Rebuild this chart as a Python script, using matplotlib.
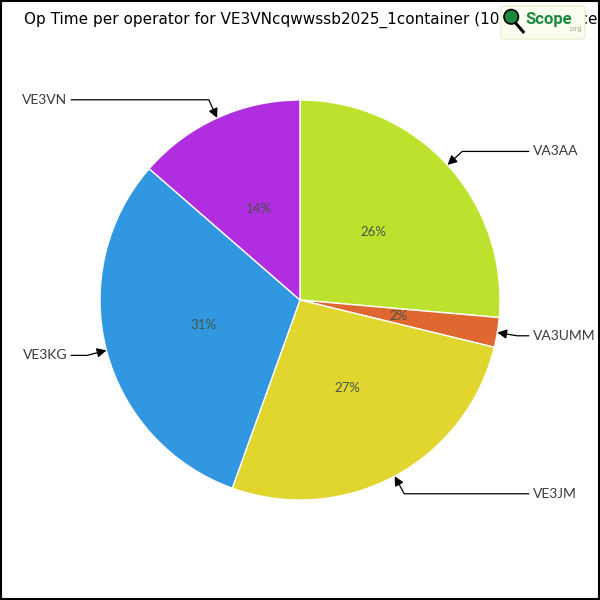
import numpy as np
import matplotlib
matplotlib.use('Agg')
import matplotlib.pyplot as plt
from matplotlib.patches import Rectangle, FancyBboxPatch, Circle

# op time share per operator (percent)
operators = ['VA3AA', 'VA3UMM', 'VE3JM', 'VE3KG', 'VE3VN']
share = [26.4, 2.4, 26.7, 30.9, 13.6]
colors = ['#bde22e', '#e06830', '#e0d62e', '#3097e0', '#b02ee0']
title = 'Op Time per operator for VE3VNcqwwssb2025_1container (10 minute slices)'

fig = plt.figure(figsize=(6, 6), dpi=100)
ax = fig.add_axes([0, 0, 1, 1])

wedges, texts, autotexts = ax.pie(
    share, colors=colors, startangle=90, counterclock=False,
    autopct='%1.0f%%', pctdistance=0.5, radius=1.0,
    wedgeprops=dict(edgecolor='white', linewidth=1),
    textprops=dict(color='#46554a', fontsize=9.5, family='Lato'))

# pie() resets the limits, so set them afterwards
ax.set_xlim(-1.5, 1.5)
ax.set_ylim(-1.5, 1.5)
ax.set_aspect('equal')
ax.axis('off')

# outside labels with elbow arrows
for w, name in zip(wedges, operators):
    ang = (w.theta1 + w.theta2) / 2.0
    a = np.deg2rad(ang)
    x, y = np.cos(a), np.sin(a)
    side = 1 if x >= 0 else -1
    ax.annotate(name, xy=(x, y), xytext=(1.165 * side, 1.1 * y),
                ha='left' if side > 0 else 'right', va='center',
                fontsize=10, color='#3a3a3a', family='Lato',
                arrowprops=dict(arrowstyle='-|>', color='black', lw=0.9,
                                mutation_scale=14, shrinkA=1, shrinkB=0,
                                connectionstyle='angle,angleA=0,angleB=%.1f,rad=0' % ang))

fig.text(0.04, 0.967, title, fontsize=11, color='black', ha='left', va='center',
         family='DejaVu Sans')

# logo box in the top right
logo = FancyBboxPatch((0.835, 0.935), 0.14, 0.055, boxstyle='round,pad=0,rounding_size=0.006',
                      transform=fig.transFigure, facecolor='#fbfdf0', edgecolor='#e4eec0',
                      lw=0.8, zorder=5)
fig.patches.append(logo)
fig.patches.append(Circle((0.852, 0.972), 0.012, transform=fig.transFigure,
                          facecolor='#1a8a3a', edgecolor='black', lw=1.2, zorder=6))
fig.add_artist(plt.Line2D([0.859, 0.872], [0.962, 0.947], transform=fig.transFigure,
                          color='black', lw=2.2, zorder=6))
fig.text(0.876, 0.967, 'Scope', fontsize=12, color='#1a8a3a', fontweight='bold',
         family='Roboto', ha='left', va='center', zorder=7)
fig.text(0.947, 0.951, '.org', fontsize=5, color='#9ab080', ha='left', va='center', zorder=7)

# outer frame
fig.patches.append(Rectangle((0.001, 0.001), 0.997, 0.997, transform=fig.transFigure,
                             fill=False, edgecolor='black', lw=1.5, zorder=10))

fig.savefig('out.png', dpi=100)
